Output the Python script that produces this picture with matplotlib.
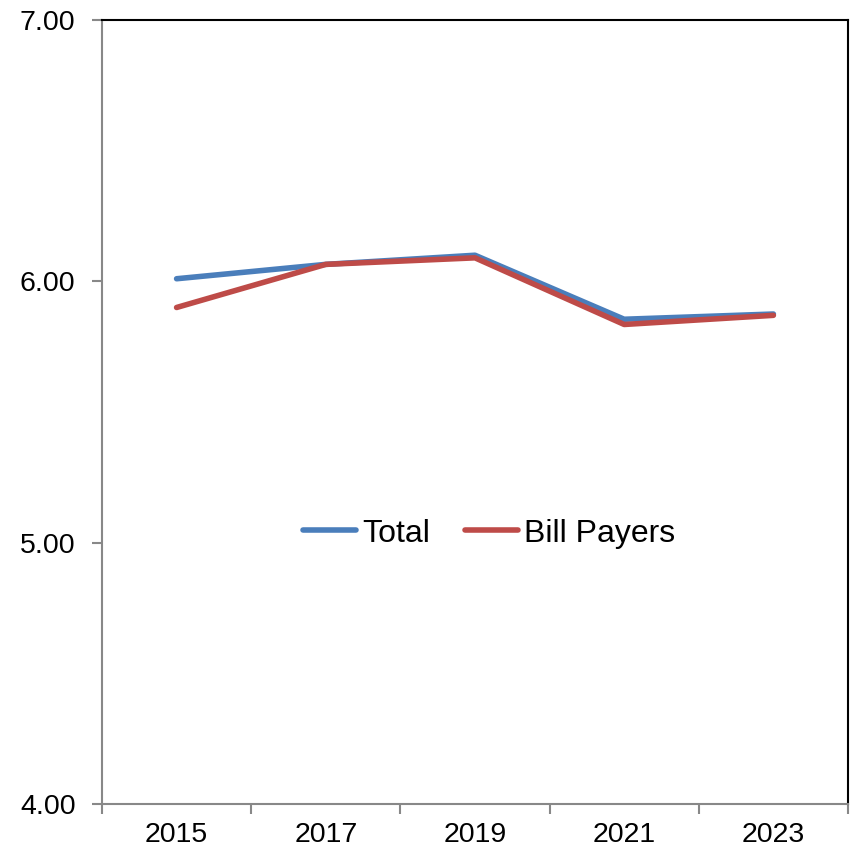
import matplotlib
matplotlib.use("Agg")
import matplotlib.pyplot as plt
import numpy as np

plt.rcParams['font.family'] = ['Liberation Sans', 'DejaVu Sans']

years = ["2015", "2017", "2019", "2021", "2023"]
total = [6.01, 6.065, 6.10, 5.855, 5.875]
bill_payers = [5.90, 6.065, 6.09, 5.835, 5.87]

fig = plt.figure(figsize=(8.52, 8.52), dpi=100)
ax = fig.add_axes([0.1197, 0.0563, 0.8756, 0.9202])

x = np.arange(len(years))
ax.plot(x, total, color='#4a7ebb', lw=4.0, solid_capstyle='round', label='Total')
ax.plot(x, bill_payers, color='#be4b48', lw=4.0, solid_capstyle='round', label='Bill Payers')

ax.set_xlim(-0.5, len(years) - 0.5)
ax.set_ylim(4, 7)
ax.set_yticks([4, 5, 6, 7])
ax.set_yticklabels([f"{v:.2f}" for v in [4, 5, 6, 7]], fontsize=20.5)
ax.set_xticks(x)
ax.set_xticklabels(years, fontsize=20.5)
ax.tick_params(axis='x', which='major', length=0, pad=13)
ax.set_xticks(np.arange(-0.5, len(years)), minor=True)
ax.tick_params(axis='x', which='minor', length=7, color='#888888', width=1.5, direction='out')
ax.tick_params(axis='y', which='major', length=7, color='#888888', width=1.5, direction='out', pad=12)

for s in ['left', 'bottom']:
    ax.spines[s].set_color('#888888')
    ax.spines[s].set_linewidth(1.5)
for s in ['top', 'right']:
    ax.spines[s].set_color('black')
    ax.spines[s].set_linewidth(1.5)

ax.legend(loc='center', bbox_to_anchor=(0.519, 0.345), ncol=2, frameon=False,
          fontsize=23, handlelength=1.65, handletextpad=0.2, columnspacing=1.1)

fig.savefig("out.png", dpi=100)
